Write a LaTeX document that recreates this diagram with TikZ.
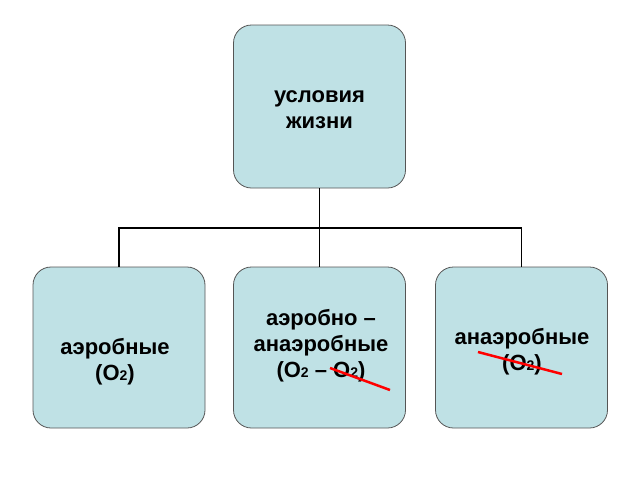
\documentclass[tikz,border=0pt]{standalone}
\usepackage{fontspec}
\setmainfont{Liberation Sans}
\usetikzlibrary{positioning}
\definecolor{boxfill}{HTML}{BFE1E5}
\definecolor{boxline}{HTML}{555555}
\newcommand{\sub}[1]{{\fontsize{14}{14}\selectfont #1}}
\begin{document}
\begin{tikzpicture}[x=1pt,y=-1pt,
        box/.style={draw=boxline,fill=boxfill,rounded corners=18pt,line width=0.8pt,
          minimum width=172pt,minimum height=161pt},
        txt/.style={align=center,font=\bfseries\fontsize{22}{26}\selectfont},
        link/.style={line width=1.8pt},
        strike/.style={red,line width=2.5pt}]
  \useasboundingbox (0,0) rectangle (640,480);

  \node[box,minimum height=163pt] (top) at (319.5,106.5) {};
  \node[box] (aer) at (119,347.5) {};
  \node[box] (mix) at (319.5,347.5) {};
  \node[box] (ana) at (521.5,347.5) {};

  \node[txt] at (319.5,110) {условия\\жизни};
  \node[txt] at (115,362) {аэробные\\(O\sub{2})};
  \node[txt] at (321,346) {аэробно –\\анаэробные\\(O\sub{2} – O\sub{2})};
  \node[txt] at (522,352) {анаэробные\\(O\sub{2})};

  \coordinate (bus) at (319.5,228);
  \draw[link] (top.south) -- (bus);
  \draw[link] (aer.north) |- (bus) -| (ana.north);
  \draw[link] (bus) -- (mix.north);

  \draw[strike] (330,368) -- (390,390);
  \draw[strike] (478,352) -- (562,374);
\end{tikzpicture}
\end{document}
